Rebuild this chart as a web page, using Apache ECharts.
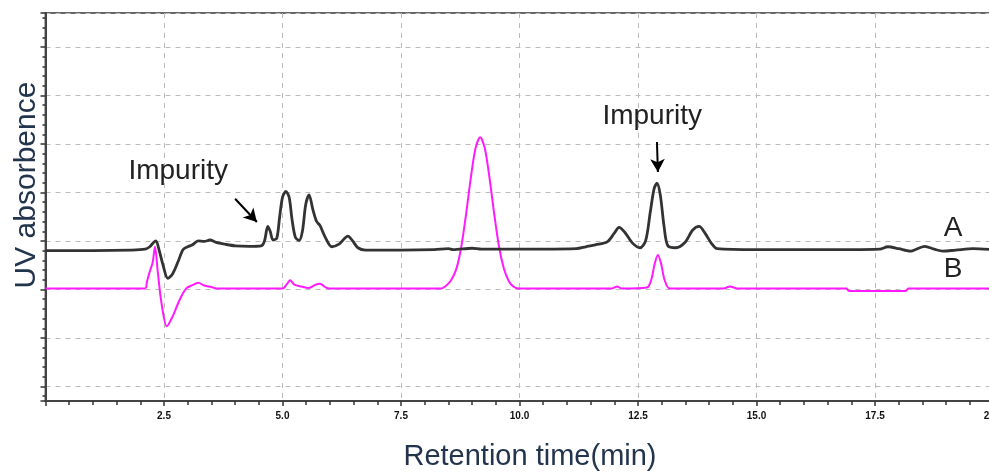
<!DOCTYPE html>
<html>
<head>
<meta charset="utf-8">
<script src="https://cdn.jsdelivr.net/npm/echarts@6/dist/echarts.min.js"></script>
<style>
    html, body { margin: 0; padding: 0; background: #fff; }
    #chart { width: 989px; height: 475px; }
</style>
</head>
<body>
<div id="chart"></div>
<script>
// trace A (black), [time, absorbance]
const traceA = [
    [0.0, 0.80], [1.0, 0.80], [1.8, 0.81], [2.1, 0.83], [2.2, 0.88], [2.28, 0.97], [2.33, 1.0],
    [2.4, 0.8], [2.48, 0.5], [2.58, 0.23], [2.68, 0.32], [2.8, 0.58], [2.9, 0.82], [3.0, 0.88],
    [3.1, 0.92], [3.22, 1.0], [3.35, 0.99], [3.47, 1.02], [3.6, 0.97], [3.8, 0.93], [4.0, 0.9],
    [4.3, 0.89], [4.55, 0.9], [4.62, 1.0], [4.69, 1.3], [4.74, 1.2], [4.8, 1.02], [4.88, 1.06],
    [4.94, 1.5], [5.0, 1.9], [5.07, 2.02], [5.14, 1.9], [5.2, 1.45], [5.27, 1.08], [5.35, 1.01],
    [5.42, 1.2], [5.49, 1.75], [5.56, 1.95], [5.64, 1.65], [5.72, 1.4], [5.79, 1.32], [5.9, 1.08],
    [6.04, 0.88], [6.2, 0.94], [6.38, 1.1], [6.48, 1.0], [6.59, 0.86], [6.75, 0.81], [7.5, 0.81],
    [8.2, 0.82], [8.5, 0.84], [8.6, 0.82], [9.0, 0.85], [9.2, 0.83], [9.8, 0.83], [10.5, 0.83],
    [11.2, 0.84], [11.4, 0.88], [11.6, 0.92], [11.85, 0.98], [12.0, 1.16], [12.1, 1.28],
    [12.22, 1.18], [12.38, 0.96], [12.54, 0.86], [12.66, 1.0], [12.76, 1.6], [12.84, 2.08],
    [12.9, 2.19], [12.97, 1.95], [13.05, 1.3], [13.13, 0.9], [13.3, 0.86], [13.5, 0.98],
    [13.65, 1.22], [13.79, 1.3], [13.92, 1.15], [14.05, 0.95], [14.17, 0.84], [15.0, 0.82],
    [16.0, 0.82], [17.0, 0.82], [17.6, 0.83], [17.77, 0.88], [18.0, 0.84], [18.24, 0.79],
    [18.55, 0.89], [18.75, 0.83], [18.93, 0.79], [19.2, 0.81], [19.57, 0.84], [20.0, 0.82],
];

// trace B (magenta)
const traceB = [
    [0.0, 0.02], [2.1, 0.02], [2.14, 0.16], [2.2, 0.37], [2.26, 0.55], [2.31, 0.88], [2.37, 0.35],
    [2.45, -0.3], [2.56, -0.76], [2.68, -0.56], [2.8, -0.28], [2.9, -0.08], [2.98, 0.03],
    [3.1, 0.09], [3.22, 0.14], [3.35, 0.08], [3.5, 0.05], [3.6, 0.02], [5.0, 0.02], [5.1, 0.12],
    [5.16, 0.19], [5.25, 0.1], [5.4, 0.06], [5.55, 0.03], [5.7, 0.1], [5.79, 0.12], [5.9, 0.05],
    [6.0, 0.02], [8.35, 0.02], [8.43, 0.06], [8.55, 0.18], [8.67, 0.43], [8.77, 0.87],
    [8.87, 1.53], [8.97, 2.28], [9.07, 2.9], [9.17, 3.14], [9.27, 2.9], [9.37, 2.28],
    [9.47, 1.53], [9.57, 0.87], [9.67, 0.43], [9.77, 0.18], [9.87, 0.06], [9.97, 0.02],
    [11.95, 0.02], [12.06, 0.06], [12.15, 0.02], [12.69, 0.04], [12.78, 0.2], [12.85, 0.52],
    [12.92, 0.71], [12.99, 0.52], [13.06, 0.2], [13.17, 0.02], [14.3, 0.02], [14.44, 0.06],
    [14.6, 0.02], [16.9, 0.02], [16.95, -0.03], [18.15, -0.03], [18.2, 0.02], [20.0, 0.02],
];

// annotations
const impurityLabels = [
    { name: "Impurity", coord: [2.8, 2.44] },
    { name: "Impurity", coord: [12.8, 3.57] },
];
const arrows = [
    [[4.0, 1.87], [4.46, 1.39]],
    [[12.9, 3.04], [12.92, 2.42]],
];
const traceLabels = [
    { name: "A", coord: [19.15, 1.26] },
    { name: "B", coord: [19.15, 0.42] },
];

const chart = echarts.init(document.getElementById("chart"));

const textColor = "#23344d";

const option = {
    animation: false,
    grid: {
        left: 45.5,
        top: 13,
        width: 948,
        height: 388,
        containLabel: false,
        outerBoundsMode: "none",
        show: true,
        borderColor: "#666",
        borderWidth: 2,
    },
    xAxis: {
        type: "value",
        min: 0,
        max: 20,
        interval: 2.5,
        axisLine: { onZero: false, lineStyle: { color: "#444", width: 2 } },
        axisTick: { length: 5, inside: false, lineStyle: { color: "#333", width: 1.5 } },
        minorTick: { show: true, splitNumber: 5, length: 4, lineStyle: { color: "#333", width: 1.5 } },
        axisLabel: {
            showMinLabel: false,
            margin: 10,
            fontSize: 10,
            fontWeight: "bold",
            color: "#111",
            formatter: (v) => v.toFixed(1),
        },
        splitLine: {
            show: true,
            lineStyle: { color: "#bbb", type: [5, 5], width: 1 },
        },
    },
    yAxis: {
        type: "value",
        min: -2.3,
        max: 5.7,
        splitNumber: 8,
        axisLine: { show: true, onZero: false, lineStyle: { color: "#444", width: 2 } },
        axisTick: { show: true, length: 5, lineStyle: { color: "#333", width: 1.5 } },
        minorTick: { show: true, splitNumber: 5, length: 3, lineStyle: { color: "#333", width: 1.5 } },
        axisLabel: { show: false },
        splitLine: {
            show: true,
            lineStyle: { color: "#bbb", type: [5, 5], width: 1 },
        },
    },
    graphic: [
        {
            type: "text",
            x: 27,
            y: 185,
            rotation: Math.PI / 2,
            style: {
                text: "UV absorbence",
                font: "30px 'Liberation Sans', Arial, sans-serif",
                fill: textColor,
                align: "center",
                verticalAlign: "middle",
            },
        },
        {
            type: "text",
            x: 530,
            y: 457,
            style: {
                text: "Retention time(min)",
                font: "29px 'Liberation Sans', Arial, sans-serif",
                fill: textColor,
                align: "center",
                verticalAlign: "middle",
            },
        },
    ],
    series: [
        {
            name: "B",
            type: "line",
            data: traceB,
            showSymbol: false,
            smooth: 0.3,
            lineStyle: { color: "#ff1aff", width: 2 },
            z: 2,
        },
        {
            name: "A",
            type: "line",
            data: traceA,
            showSymbol: false,
            smooth: 0.3,
            lineStyle: { color: "#333", width: 2.8 },
            z: 3,
            markLine: {
                silent: true,
                symbol: ["none", "arrow"],
                symbolSize: [11, 13],
                lineStyle: { color: "#000", width: 2, type: "solid" },
                label: { show: false },
                data: arrows.map(([a, b]) => [{ coord: a }, { coord: b }]),
            },
            markPoint: {
                silent: true,
                symbol: "circle",
                symbolSize: 0,
                label: {
                    show: true,
                    position: "inside",
                    formatter: "{b}",
                    color: "#222",
                    fontSize: 28,
                    fontFamily: "'Liberation Sans', Arial, sans-serif",
                },
                data: impurityLabels.concat(traceLabels),
            },
        },
    ],
};

chart.setOption(option);
</script>
</body>
</html>
